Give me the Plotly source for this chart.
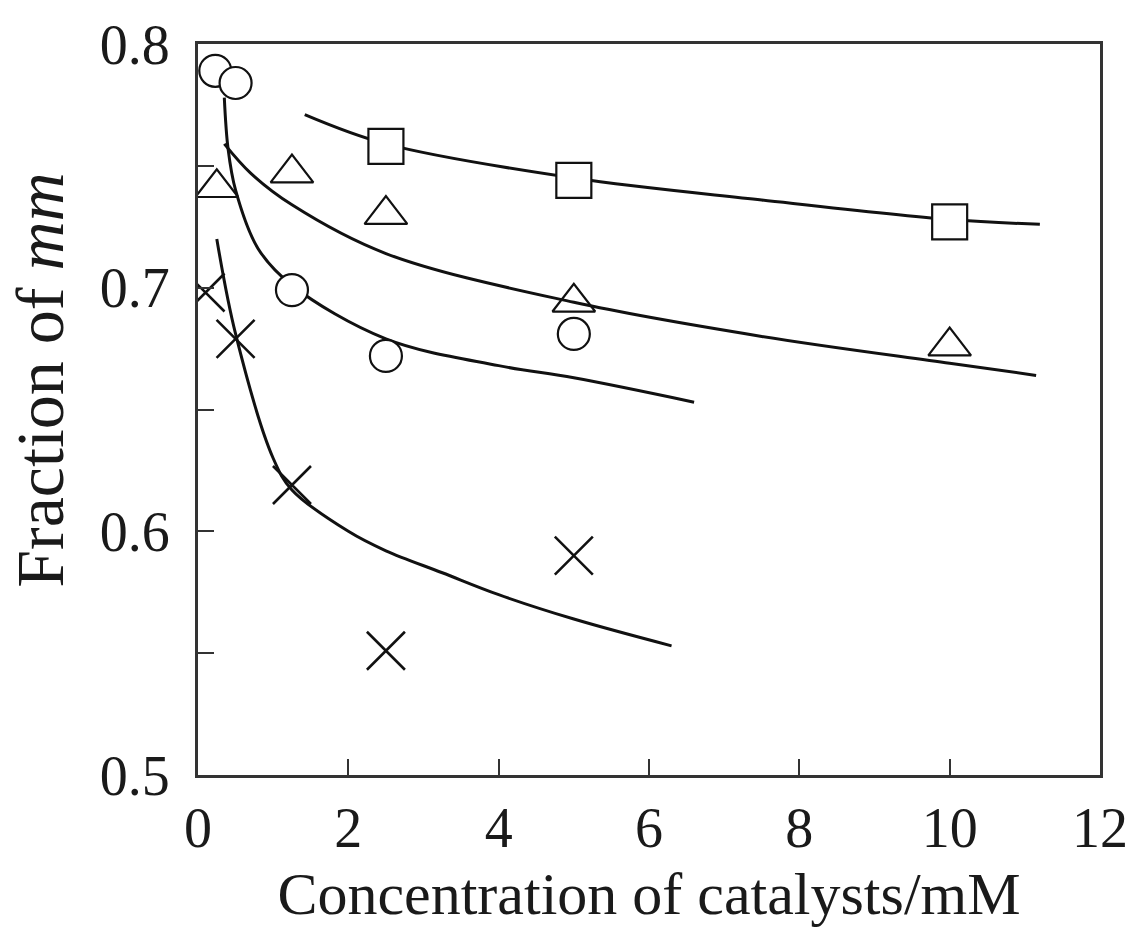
import plotly.graph_objects as go

# Data points
sq_x = [2.5, 5, 10]
sq_y = [0.758, 0.744, 0.727]
tri_x = [0.25, 1.25, 2.5, 5, 10]
tri_y = [0.741, 0.747, 0.730, 0.694, 0.676]
cir_x = [0.23, 0.5, 1.25, 2.5, 5]
cir_y = [0.789, 0.784, 0.699, 0.672, 0.681]
crs_x = [0.1, 0.5, 1.25, 2.5, 5]
crs_y = [0.698, 0.679, 0.619, 0.551, 0.590]

# Fitted curves
sq_fx = [1.42, 2.5, 5, 7.5, 10, 11.2]
sq_fy = [0.771, 0.759, 0.745, 0.736, 0.728, 0.726]
tri_fx = [0.35, 0.7, 1.25, 2.5, 5, 7.5, 10, 11.15]
tri_fy = [0.759, 0.747, 0.734, 0.714, 0.694, 0.680, 0.669, 0.664]
cir_fx = [0.35, 0.4, 0.5, 0.8, 1.25, 2.5, 4, 5, 6.6]
cir_fy = [0.778, 0.757, 0.740, 0.716, 0.701, 0.679, 0.668, 0.663, 0.653]
crs_fx = [0.25, 0.5, 1.0, 1.25, 2.0, 2.5, 3.25, 4.0, 5.0, 6.3]
crs_fy = [0.720, 0.681, 0.630, 0.617, 0.600, 0.592, 0.583, 0.574, 0.564, 0.553]

x_ticks = [0, 2, 4, 6, 8, 10, 12]
y_ticks = [0.5, 0.55, 0.6, 0.65, 0.7, 0.75, 0.8]
y_labels = ["0.5", "", "0.6", "", "0.7", "", "0.8"]

fig = go.Figure()
line_style = dict(color="#111", width=3, shape="spline", smoothing=1.0)
for fx, fy in [(sq_fx, sq_fy), (tri_fx, tri_fy), (cir_fx, cir_fy), (crs_fx, crs_fy)]:
    fig.add_trace(go.Scatter(x=fx, y=fy, mode="lines", line=line_style,
                             showlegend=False, hoverinfo="skip"))

mk_line = dict(color="#111", width=2.2)
fig.add_trace(go.Scatter(x=sq_x, y=sq_y, mode="markers", showlegend=False,
                         marker=dict(symbol="square", size=35, color="white", line=mk_line)))
fig.add_trace(go.Scatter(x=tri_x, y=tri_y, mode="markers", showlegend=False,
                         marker=dict(symbol="triangle-up-open", size=37, color="#111", line=mk_line)))
fig.add_trace(go.Scatter(x=cir_x, y=cir_y, mode="markers", showlegend=False,
                         marker=dict(symbol="circle", size=32, color="white", line=mk_line)))
fig.add_trace(go.Scatter(x=crs_x, y=crs_y, mode="markers", showlegend=False,
                         marker=dict(symbol="x-thin-open", size=38, color="#111", line=dict(color="#111", width=2.6))))

font = dict(family="Liberation Serif", color="#1a1a1a", size=56)
fig.update_layout(
    width=1140, height=934,
    margin=dict(l=198, r=37, t=44, b=159),
    paper_bgcolor="white", plot_bgcolor="white",
    font=font,
    xaxis=dict(range=[0, 12], tickvals=x_ticks, ticktext=[str(v) for v in x_ticks],
               ticks="inside", ticklen=16, tickwidth=2, tickcolor="#333",
               showline=True, linewidth=3, linecolor="#333", mirror=True,
               showgrid=False, zeroline=False, ticklabelstandoff=2,
               title=dict(text="Concentration of catalysts/mM", font=dict(size=60), standoff=14),
               tickfont=dict(size=56)),
    yaxis=dict(range=[0.5, 0.8], tickvals=y_ticks, ticktext=y_labels,
               ticks="inside", ticklen=16, tickwidth=2, tickcolor="#333",
               showline=True, linewidth=3, linecolor="#333", mirror=True,
               showgrid=False, zeroline=False, ticklabelstandoff=14,
               tickfont=dict(size=56)),
    annotations=[dict(text="Fraction of <i>mm</i>", textangle=-90, showarrow=False,
                      xref="paper", yref="paper", x=-0.1746, y=0.540,
                      xanchor="center", yanchor="middle",
                      font=dict(size=68, family="Liberation Serif", color="#1a1a1a"))],
)
fig.write_html("out.html")
